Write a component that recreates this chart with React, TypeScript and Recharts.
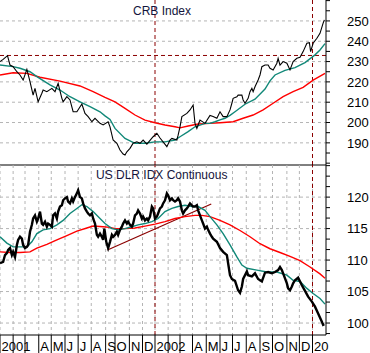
import React from 'react';
import { LineChart, Line, XAxis, YAxis, CartesianGrid, ReferenceLine } from 'recharts';

// ---- x axis: trading-day index since 2 Jan 2001 ----
const monthStartDays = [0, 21, 40, 62, 82, 104, 125, 146, 169, 184, 207, 228, 248, 269, 288, 308, 330, 352, 372, 394, 416, 436, 459, 479, 500];
const monthLabels = ['2001', '', '', 'A', 'M', 'J', 'J', 'A', 'S', 'O', 'N', 'D', '2002', '', '', 'A', 'M', 'J', 'J', 'A', 'S', 'O', 'N', 'D', '20'];
const yearStartDays = [248, 500];

// ---- CRB Index panel ----
const crbTitle = 'CRB Index';
const crbTicks = [180, 185, 190, 195, 200, 205, 210, 215, 220, 225, 230, 235, 240, 245, 250, 255, 260];
const crbTickLabels = [190, 200, 210, 220, 230, 240, 250];
const crbLevel = 233;
const crbClose: [number, number][] = [
  [0, 230.0], [5, 231.1], [12, 232.9], [16, 228.3], [21, 227.5], [27, 225.0], [32, 223.4], [37, 220.9], [43, 226.2], [48, 220.1],
  [53, 213.5], [56, 216.8], [61, 210.2], [67, 214.4], [69, 216.0], [75, 215.2], [83, 216.8], [88, 215.2], [93, 219.3], [99, 211.9],
  [101, 210.2], [107, 212.7], [112, 211.1], [117, 205.3], [123, 205.3], [131, 209.1], [136, 204.5], [141, 202.9], [147, 200.4], [152, 202.1],
  [160, 199.6], [165, 198.8], [173, 200.4], [176, 197.9], [181, 191.4], [187, 189.8], [192, 186.5], [197, 184.5], [200, 184.0], [203, 185.6],
  [208, 187.3], [213, 189.8], [219, 190.5], [224, 189.8], [229, 191.4], [235, 189.4], [245, 193.0], [251, 194.7], [256, 192.4], [267, 188.1], [272, 191.4],
  [275, 192.2], [283, 191.4], [285, 193.8], [288, 197.9], [291, 202.9], [299, 204.5], [304, 206.2], [309, 208.6], [312, 199.6], [315, 197.1],
  [320, 201.2], [328, 199.6], [336, 203.5], [341, 203.0], [347, 202.1], [352, 205.3], [357, 202.9], [363, 202.9], [368, 206.2], [371, 209.5],
  [373, 211.9], [379, 212.7], [381, 213.5], [387, 213.5], [389, 211.1], [392, 209.5], [397, 211.9], [400, 215.2], [403, 216.8], [405, 215.2],
  [408, 217.6], [413, 220.9], [416, 223.4], [419, 227.5], [424, 228.3], [429, 228.3], [432, 226.7], [437, 225.9], [443, 229.2], [445, 231.6],
  [448, 228.3], [453, 230.0], [459, 229.2], [464, 225.9], [469, 230.0], [475, 231.6], [480, 232.1], [485, 234.9], [491, 239.0], [495, 239.3],
  [497, 234.9], [501, 239.0], [507, 241.5], [512, 243.9], [517, 248.9], [519, 250.5],
];
const crbShortAvg: [number, number][] = [
  [0, 228.3], [21, 227.5], [32, 226.7], [48, 225.0], [59, 222.6], [80, 218.5], [96, 216.0], [112, 212.7], [128, 210.2], [144, 207.8],
  [160, 205.3], [168, 203.3], [176, 201.5], [184, 197.1], [200, 192.2], [216, 189.8], [232, 189.8], [248, 190.5], [264, 190.5], [280, 191.4],
  [288, 193.0], [301, 195.5], [312, 197.9], [328, 199.6], [336, 199.6], [344, 200.4], [352, 201.3], [360, 202.1], [368, 203.5], [376, 205.3],
  [392, 209.0], [408, 211.5], [424, 216.5], [432, 220.5], [440, 223.4], [456, 225.7], [472, 227.0], [488, 229.5], [504, 233.3], [512, 235.7], [520, 238.8],
];
const crbLongAvg: [number, number][] = [
  [0, 223.4], [21, 224.5], [43, 224.2], [64, 222.3], [96, 220.4], [128, 218.0], [149, 215.2], [168, 212.4], [184, 210.2], [200, 207.0],
  [216, 203.7], [232, 201.2], [248, 199.9], [264, 198.8], [280, 197.9], [288, 197.4], [301, 198.3], [317, 199.3], [336, 199.6], [352, 199.9],
  [373, 200.4], [389, 202.1], [405, 203.7], [421, 206.2], [437, 209.5], [453, 212.7], [469, 215.2], [485, 217.3], [501, 220.9], [520, 224.2],
];

// ---- US Dollar Index panel ----
const dlrTitle = 'US DLR IDX Continuous';
const dlrTicks = [98.33, 100, 101.67, 103.33, 105, 106.67, 108.33, 110, 111.67, 113.33, 115, 116.67, 118.33, 120, 121.67, 123.33, 125];
const dlrTickLabels = [100, 105, 110, 115, 120];
const dlrTrend: [number, number][] = [[172, 111.6], [338, 118.9]];
const dlrClose: [number, number][] = [
  [0, 109.5], [5, 109.7], [8, 110.8], [11, 111.1], [13, 111.6], [16, 111.9], [19, 110.8], [21, 111.3], [24, 110.5], [27, 112.4],
  [29, 113.2], [32, 113.7], [35, 113.4], [37, 112.4], [40, 111.9], [43, 112.1], [45, 112.4], [48, 114.5], [51, 115.6], [53, 116.6],
  [56, 117.1], [59, 116.1], [61, 116.6], [64, 117.7], [67, 115.8], [69, 115.6], [72, 116.1], [75, 115.3], [77, 115.8], [80, 115.6],
  [83, 115.3], [85, 117.1], [88, 117.4], [91, 116.6], [93, 117.7], [96, 118.5], [99, 118.7], [101, 119.5], [104, 119.8], [107, 120.0],
  [109, 119.3], [112, 119.0], [115, 119.8], [117, 119.3], [120, 120.0], [123, 120.6], [125, 121.1], [128, 120.0], [131, 119.8], [133, 119.0],
  [136, 118.2], [139, 117.7], [141, 117.4], [144, 117.1], [147, 117.4], [149, 116.6], [152, 115.8], [155, 114.0], [157, 113.7], [160, 114.2],
  [163, 113.7], [165, 113.2], [167, 115.0], [170, 112.9], [173, 111.9], [176, 112.9], [179, 114.0], [181, 113.7], [184, 114.0], [187, 114.5],
  [189, 114.0], [192, 114.8], [195, 115.3], [197, 115.8], [200, 116.3], [203, 115.8], [205, 116.1], [208, 115.6], [211, 115.3], [213, 115.8],
  [216, 117.1], [219, 117.4], [221, 117.9], [224, 117.4], [227, 116.6], [229, 116.9], [232, 116.3], [235, 116.6], [237, 116.3], [240, 116.9],
  [243, 118.5], [245, 118.2], [248, 116.6], [251, 116.9], [253, 117.4], [256, 118.2], [259, 118.5], [261, 119.0], [264, 119.5], [267, 120.6],
  [269, 120.3], [272, 119.5], [275, 119.8], [277, 119.5], [280, 119.3], [283, 119.5], [285, 119.8], [288, 119.3], [291, 117.9], [293, 117.4],
  [296, 117.9], [299, 118.2], [301, 118.5], [304, 119.0], [307, 118.7], [309, 118.5], [312, 118.5], [315, 118.7], [317, 117.9], [320, 117.1],
  [323, 116.3], [325, 115.8], [328, 115.0], [331, 115.3], [333, 114.8], [336, 114.2], [339, 113.7], [341, 113.4], [347, 112.9], [352, 111.9],
  [357, 111.3], [363, 110.8], [365, 109.5], [368, 107.6], [371, 107.0], [376, 106.7], [381, 105.2], [384, 104.8], [387, 105.8], [389, 107.0],
  [395, 108.2], [397, 107.6], [403, 107.4], [408, 107.9], [413, 107.0], [419, 106.6], [424, 108.0], [429, 108.1], [435, 107.9], [440, 108.1],
  [445, 108.4], [448, 108.9], [451, 108.4], [456, 107.1], [459, 106.3], [461, 105.5], [464, 105.2], [467, 105.8], [469, 106.3], [472, 106.8],
  [477, 107.2], [483, 106.0], [488, 105.1], [493, 104.2], [499, 103.4], [504, 102.6], [509, 101.5], [515, 100.2], [517, 99.7], [519, 99.8],
];
const dlrShortAvg: [number, number][] = [
  [0, 113.7], [11, 112.7], [21, 112.1], [32, 112.1], [43, 112.1], [51, 112.9], [59, 114.2], [69, 114.8], [80, 115.0], [91, 115.6],
  [101, 116.3], [112, 117.4], [123, 118.2], [131, 118.8], [139, 118.5], [149, 117.7], [160, 116.6], [168, 115.8], [179, 115.0], [189, 114.8],
  [200, 115.0], [211, 115.3], [221, 115.6], [232, 115.8], [243, 116.1], [253, 116.6], [264, 117.7], [275, 118.2], [285, 118.5], [296, 118.7],
  [307, 118.5], [317, 118.5], [328, 117.9], [336, 116.9], [347, 115.6], [357, 114.2], [368, 112.4], [379, 110.5], [387, 109.2], [395, 108.7],
  [411, 108.4], [427, 108.1], [443, 108.1], [459, 107.6], [469, 106.8], [480, 106.6], [491, 105.5], [501, 104.7], [512, 103.9], [520, 103.0],
];
const dlrLongAvg: [number, number][] = [
  [0, 111.3], [16, 111.2], [32, 111.2], [48, 111.3], [59, 111.9], [75, 112.5], [91, 113.2], [107, 113.9], [123, 114.6], [139, 115.1],
  [149, 115.4], [165, 115.3], [176, 115.2], [184, 115.0], [200, 115.0], [216, 115.1], [232, 115.4], [248, 115.7], [264, 116.1], [280, 116.6],
  [296, 116.9], [312, 117.1], [323, 117.1], [336, 116.9], [352, 116.3], [368, 115.6], [384, 114.7], [400, 113.7], [416, 112.6], [432, 111.8],
  [448, 111.2], [464, 110.6], [480, 109.9], [496, 108.9], [512, 107.8], [520, 107.1],
];

// ---- styling ----
const WIDTH = 370;
const AXIS_W = 44;
const DAY_DOMAIN: [number, number] = [0, 521.6];
const CRB_DOMAIN: [number, number] = [179.1, 260.3];
const DLR_DOMAIN: [number, number] = [98.1, 125.1];
const FONT = '"Liberation Sans", Arial, sans-serif';
const GRID = '#b4b4b4';
const MARK = '#8b0000';
const TEAL = '#118878';
const RED = '#ff0000';

const toRows = (pts: [number, number][]) => pts.map(([day, v]) => ({ day, v }));

const makeYTick = (labels: number[]) => (props: any) => {
  const { x, y, payload } = props;
  const show = labels.some((l) => Math.abs(l - payload.value) < 0.01);
  if (!show) return <g />;
  return (
    <text x={x} y={y} dy="0.36em" textAnchor="start" fontSize={13} fontFamily={FONT} fill="#000">
      {payload.value}
    </text>
  );
};

const XTick = (props: any) => {
  const { x, y, payload } = props;
  const i = monthStartDays.indexOf(payload.value);
  const label = i >= 0 ? monthLabels[i] : '';
  return (
    <text x={x + 1.5} y={y - 2} textAnchor="start" fontSize={13} fontFamily={FONT} fill="#000">
      {label}
    </text>
  );
};

const CrbTick = makeYTick(crbTickLabels);
const DlrTick = makeYTick(dlrTickLabels);

const series = (pts: [number, number][], color: string, width: number) => (
  <Line
    data={toRows(pts)}
    dataKey="v"
    type="linear"
    stroke={color}
    strokeWidth={width}
    dot={false}
    activeDot={false}
    isAnimationActive={false}
  />
);

export default function App() {
  return (
    <div style={{ position: 'absolute', left: 0, top: 0, width: WIDTH, height: 353, background: '#fff' }}>
      <div style={{ position: 'absolute', left: 0, top: 0 }}>
        <LineChart width={WIDTH} height={166} margin={{ top: 0, right: 0, bottom: 0, left: 0 }}>
          <CartesianGrid
            stroke={GRID}
            strokeDasharray="3 3"
            horizontalValues={crbTickLabels}
            verticalValues={monthStartDays}
          />
          <XAxis
            type="number"
            dataKey="day"
            domain={DAY_DOMAIN}
            allowDataOverflow
            ticks={monthStartDays}
            tick={false}
            tickLine={false}
            height={1}
            axisLine={{ stroke: '#000' }}
          />
          <YAxis
            orientation="right"
            type="number"
            domain={CRB_DOMAIN}
            allowDataOverflow
            ticks={crbTicks}
            interval={0}
            width={AXIS_W}
            tickSize={4}
            tickMargin={17}
            tick={CrbTick}
            axisLine={{ stroke: '#000' }}
            tickLine={{ stroke: '#000' }}
          />
          <ReferenceLine y={crbLevel} stroke={MARK} strokeDasharray="4 3" />
          {yearStartDays.map((d) => (
            <ReferenceLine key={d} x={d} stroke={MARK} strokeDasharray="4 3" />
          ))}
          {series(crbLongAvg, RED, 1.4)}
          {series(crbShortAvg, TEAL, 1.4)}
          {series(crbClose, '#000', 1.1)}
        </LineChart>
      </div>
      <div style={{ position: 'absolute', left: 0, top: 165 }}>
        <LineChart width={WIDTH} height={188} margin={{ top: 0, right: 0, bottom: 0, left: 0 }}>
          <CartesianGrid
            stroke={GRID}
            strokeDasharray="3 3"
            horizontalValues={dlrTickLabels}
            verticalValues={monthStartDays}
          />
          <XAxis
            type="number"
            dataKey="day"
            domain={DAY_DOMAIN}
            allowDataOverflow
            ticks={monthStartDays}
            interval={0}
            tick={XTick}
            tickSize={18}
            tickMargin={0}
            height={18}
            axisLine={{ stroke: '#000' }}
            tickLine={{ stroke: '#000' }}
          />
          <YAxis
            orientation="right"
            type="number"
            domain={DLR_DOMAIN}
            allowDataOverflow
            ticks={dlrTicks}
            interval={0}
            width={AXIS_W}
            tickSize={4}
            tickMargin={17}
            tick={DlrTick}
            axisLine={{ stroke: '#000' }}
            tickLine={{ stroke: '#000' }}
          />
          {yearStartDays.map((d) => (
            <ReferenceLine key={d} x={d} stroke={MARK} strokeDasharray="4 3" />
          ))}
          <ReferenceLine
            segment={[{ x: dlrTrend[0][0], y: dlrTrend[0][1] }, { x: dlrTrend[1][0], y: dlrTrend[1][1] }]}
            stroke={MARK}
            strokeWidth={1.2}
          />
          {series(dlrLongAvg, RED, 1.4)}
          {series(dlrShortAvg, TEAL, 1.4)}
          {series(dlrClose, '#000', 2.4)}
        </LineChart>
      </div>
      <div style={{ position: 'absolute', left: 133, top: 4, fontFamily: FONT, fontSize: 12, lineHeight: '14px', color: '#14143c', whiteSpace: 'nowrap' }}>
        {crbTitle}
      </div>
      <div style={{ position: 'absolute', left: 96, top: 168, fontFamily: FONT, fontSize: 12, lineHeight: '14px', color: '#14143c', whiteSpace: 'nowrap' }}>
        {dlrTitle}
      </div>
    </div>
  );
}
